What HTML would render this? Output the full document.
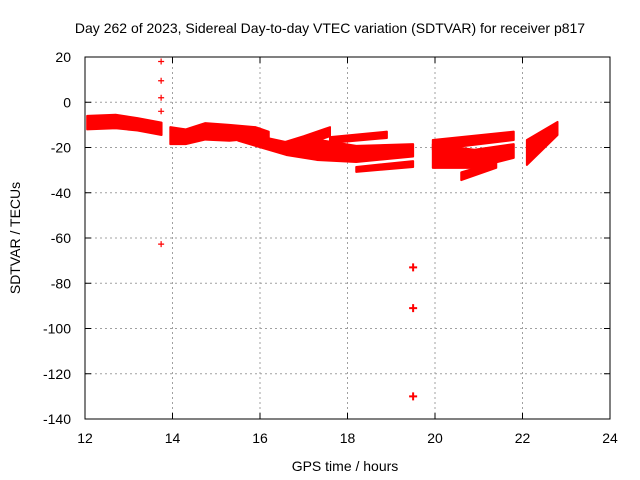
<!DOCTYPE html>
<html><head><meta charset="utf-8"><style>
body{margin:0;background:#fff;}
svg{display:block;font-family:"Liberation Sans",sans-serif;}
</style></head><body>
<svg id="chart" width="640" height="480" viewBox="0 0 640 480">
<text x="330" y="33" font-size="14" text-anchor="middle" fill="#000">Day 262 of 2023, Sidereal Day-to-day VTEC variation (SDTVAR) for receiver p817</text>
<text x="345" y="471" font-size="14" text-anchor="middle">GPS time / hours</text>
<text x="20" y="238" font-size="14" text-anchor="middle" transform="rotate(-90 20 238)">SDTVAR / TECUs</text>
<g id="grid"></g>
<g id="bands"></g>
<g id="points"></g>
<rect x="85" y="57" width="525" height="362" fill="none" stroke="#000" stroke-width="1"/>
<g id="ticks"></g>
</svg>
<script>
const xTicks=[12,14,16,18,20,22,24];
const yTicks=[20,0,-20,-40,-60,-80,-100,-120,-140];
// bands: times, upper values, lower values
const band1T=[12.05,12.7,13.2,13.75], band1Up=[-6,-5.5,-7,-9], band1Lo=[-12,-11.5,-12.5,-14.5];
const band2T=[13.95,14.3,14.75,15.3,15.9,16.2], band2Up=[-11,-12,-9.2,-10,-11,-13], band2Lo=[-18.5,-18.5,-16.5,-17,-16,-16];
const band3T=[15.5,16.6,17.3,18.2,19.5], band3Up=[-13,-17.6,-16.5,-19.3,-18.5], band3Lo=[-17,-23.3,-25.5,-26.4,-24];
const band4T=[16.5,17,17.6], band4Up=[-18,-15,-11], band4Lo=[-21,-19,-15];
const band5T=[17.6,18.9], band5Up=[-15.4,-13], band5Lo=[-18,-15.8];
const band6T=[18.2,19.5], band6Up=[-28.6,-26], band6Lo=[-30.8,-28.6];
const band7T=[19.95,21.8], band7Up=[-16.7,-13], band7Lo=[-21,-16.7];
const band8T=[19.95,20.9,21.8], band8Up=[-18.5,-21,-18.5], band8Lo=[-29,-29,-24.6];
const band9T=[20.6,21.4], band9Up=[-31,-26.4], band9Lo=[-34.4,-29];
const band10T=[22.1,22.8], band10Up=[-16.7,-8.7], band10Lo=[-27.7,-14.5];
const outT=[13.74,13.74,13.74,13.74,13.74,19.5,19.5,19.5];
const outV=[18,9.5,2,-4,-62.7,-73,-91,-130];
const outSize=[3,3,3,3,3,4,4,4];

const NS="http://www.w3.org/2000/svg";
const X=t=>85+(t-12)*525/12;
const Y=v=>57+(20-v)*362/160;
const grid=document.getElementById('grid'),ticks=document.getElementById('ticks');
function mk(tag,attrs,parent){const e=document.createElementNS(NS,tag);for(const k in attrs)e.setAttribute(k,attrs[k]);parent.appendChild(e);return e;}
xTicks.forEach(t=>{
  if(t>12&&t<24){const g=mk('line',{x1:X(t),x2:X(t),y1:57,y2:419,stroke:'#a0a0a0','stroke-dasharray':'2,3'},grid);
  
  }
  const a=mk('line',{x1:X(t),x2:X(t),y1:419,y2:413,stroke:'#000'},ticks);
  
  
  const b=mk('line',{x1:X(t),x2:X(t),y1:57,y2:63,stroke:'#000'},ticks);
  
  
  const l=mk('text',{x:X(t),y:443,'font-size':14,'text-anchor':'middle'},ticks);l.textContent=t;
  
  
});
yTicks.forEach(v=>{
  if(v<20&&v>-140){const g=mk('line',{x1:85,x2:610,y1:Y(v),y2:Y(v),stroke:'#a0a0a0','stroke-dasharray':'2,3'},grid);
  
  }
  const a=mk('line',{x1:85,x2:91,y1:Y(v),y2:Y(v),stroke:'#000'},ticks);
  
  
  const b=mk('line',{x1:604,x2:610,y1:Y(v),y2:Y(v),stroke:'#000'},ticks);
  
  
  const l=mk('text',{x:71,y:Y(v)+5,'font-size':14,'text-anchor':'end'},ticks);l.textContent=v;
  
  
});
const bandsG=document.getElementById('bands');
[[band1T,band1Up,band1Lo],[band2T,band2Up,band2Lo],[band3T,band3Up,band3Lo],[band4T,band4Up,band4Lo],[band5T,band5Up,band5Lo],[band6T,band6Up,band6Lo],[band7T,band7Up,band7Lo],[band8T,band8Up,band8Lo],[band9T,band9Up,band9Lo],[band10T,band10Up,band10Lo]].forEach(([T,U,L])=>{
  const pts=T.map((t,i)=>X(t)+','+Y(U[i])).concat(T.map((t,i)=>X(t)+','+Y(L[i])).reverse());
  const p=mk('polygon',{points:pts.join(' '),fill:'#ff0000',stroke:'#ff0000','stroke-width':2,'stroke-linejoin':'round'},bandsG);
  
  
});
const ptsG=document.getElementById('points');
outT.forEach((t,i)=>{
  const s=outSize[i],cx=X(t),cy=Y(outV[i]);
  const p=mk('path',{d:`M${cx-s},${cy}H${cx+s}M${cx},${cy-s}V${cy+s}`,stroke:'#ff0000','stroke-width':s>3?2:1.2},ptsG);
  
  
});
</script>
</body></html>
